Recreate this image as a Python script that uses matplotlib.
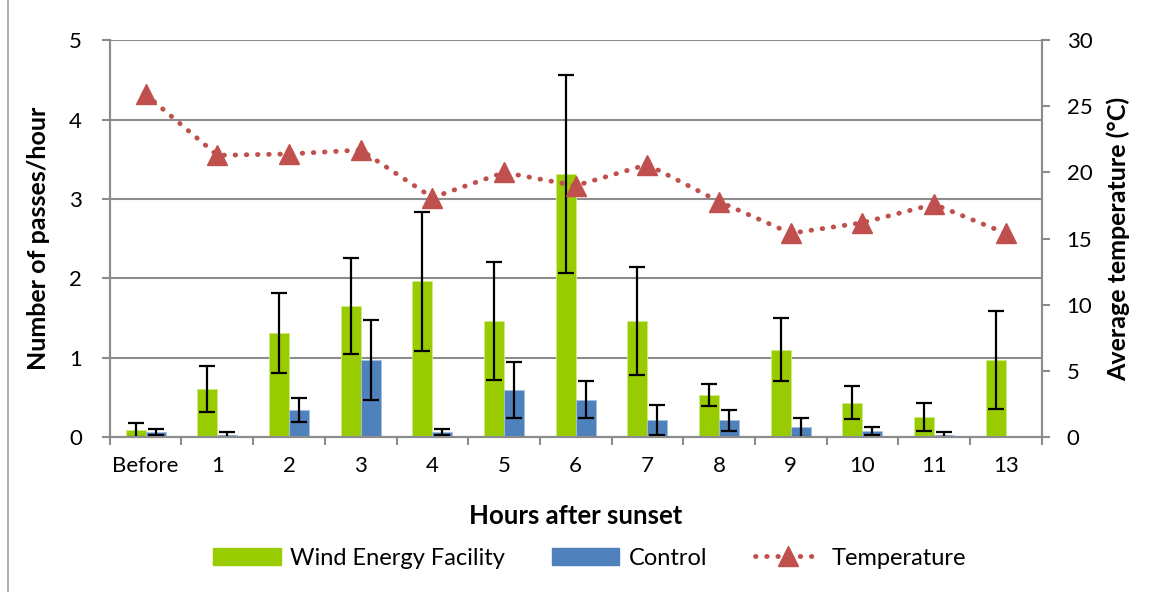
import matplotlib
matplotlib.use('Agg')
import matplotlib.pyplot as plt
from matplotlib.lines import Line2D
import numpy as np

# hours after sunset
categories = ['Before', '1', '2', '3', '4', '5', '6', '7', '8', '9', '10', '11', '13']

# mean passes per hour and error (+/-)
wind = [0.09, 0.60, 1.31, 1.65, 1.96, 1.46, 3.31, 1.46, 0.53, 1.10, 0.43, 0.25, 0.97]
wind_err = [0.09, 0.29, 0.51, 0.61, 0.88, 0.74, 1.25, 0.68, 0.14, 0.40, 0.21, 0.18, 0.62]
control = [0.06, 0.03, 0.34, 0.97, 0.06, 0.59, 0.47, 0.21, 0.21, 0.12, 0.07, 0.03, 0.0]
control_err = [0.04, 0.03, 0.15, 0.50, 0.04, 0.35, 0.23, 0.19, 0.13, 0.12, 0.05, 0.03, 0.0]

# average temperature (degrees C)
temperature = [25.9, 21.3, 21.4, 21.7, 18.1, 20.0, 19.0, 20.6, 17.8, 15.4, 16.2, 17.6, 15.4]

plt.rcParams['font.family'] = ['Lato', 'DejaVu Sans']

green = '#99CC00'
blue = '#4F81BD'
red = '#C0504D'
grey = '#8C8C8C'

fig = plt.figure(figsize=(11.56, 5.92), dpi=100)
ax = fig.add_axes([0.095, 0.262, 0.806, 0.670])
ax2 = ax.twinx()

x = np.arange(len(categories))
w = 0.28

ax.bar(x - w / 2, wind, w, color=green, edgecolor='#CDEB80', linewidth=0.6, zorder=3)
ax.bar(x + w / 2, control, w, color=blue, edgecolor='#A7C0DE', linewidth=0.6, zorder=3)
ax.errorbar(x - w / 2, wind, yerr=wind_err, fmt='none', ecolor='black',
            elinewidth=1.6, capsize=6, capthick=1.6, zorder=4)
cx = [xi + w / 2 for xi, v in zip(x, control) if v > 0]
cv = [v for v in control if v > 0]
ce = [e for v, e in zip(control, control_err) if v > 0]
ax.errorbar(cx, cv, yerr=ce, fmt='none', ecolor='black',
            elinewidth=1.6, capsize=6, capthick=1.6, zorder=4)

ax2.plot(x, temperature, color=red, linestyle=(0, (0.1, 2.2)), linewidth=3.5,
         dash_capstyle='round', marker='^', markersize=14, zorder=5)

ax.set_xlim(-0.5, len(categories) - 0.5)
ax.set_ylim(0, 5)
ax2.set_ylim(0, 30)

ax.set_yticks(range(0, 6))
ax2.set_yticks(range(0, 31, 5))
ax.set_xticks(x)
ax.set_xticklabels(categories)
ax.set_xticks(np.arange(-0.5, len(categories)), minor=True)
ax.tick_params(axis='x', which='major', length=0, pad=14, labelsize=16)
ax.tick_params(axis='x', which='minor', length=6, color=grey, width=1.5)
ax.tick_params(axis='y', length=6, color=grey, width=1.5, labelsize=16, pad=14)
ax2.tick_params(axis='y', length=6, color=grey, width=1.5, labelsize=16, pad=12)

ax.grid(axis='y', color=grey, linewidth=1.5, zorder=0)
ax.set_axisbelow(True)

for a in (ax, ax2):
    a.spines['top'].set_visible(False)
    for s in ('left', 'right', 'bottom'):
        a.spines[s].set_color(grey)
        a.spines[s].set_linewidth(1.5)

ax.set_xlabel('Hours after sunset', fontsize=18.5, fontweight='bold', labelpad=20)
ax.set_ylabel('Number of passes/hour', fontsize=18, fontweight='bold', labelpad=14)
ax2.set_ylabel('Average temperature (°C)', fontsize=18, fontweight='bold', labelpad=10)

handles = [
    plt.Rectangle((0, 0), 1, 1, color=green),
    plt.Rectangle((0, 0), 1, 1, color=blue),
    Line2D([], [], color=red, linestyle=(0, (0.1, 2.2)), linewidth=3.5,
           dash_capstyle='round', marker='^', markersize=14),
]
fig.legend(handles, ['Wind Energy Facility', 'Control', 'Temperature'],
           loc='center', bbox_to_anchor=(0.51, 0.057), ncol=3, frameon=False,
           fontsize=17, handlelength=2.85, handleheight=0.75, columnspacing=2.0,
           handletextpad=0.4)

# chart area border on the left edge
fig.add_artist(Line2D([0.007, 0.007], [0, 1], color='#A0A0A0', linewidth=1.2))

fig.savefig('out.png', dpi=100)
